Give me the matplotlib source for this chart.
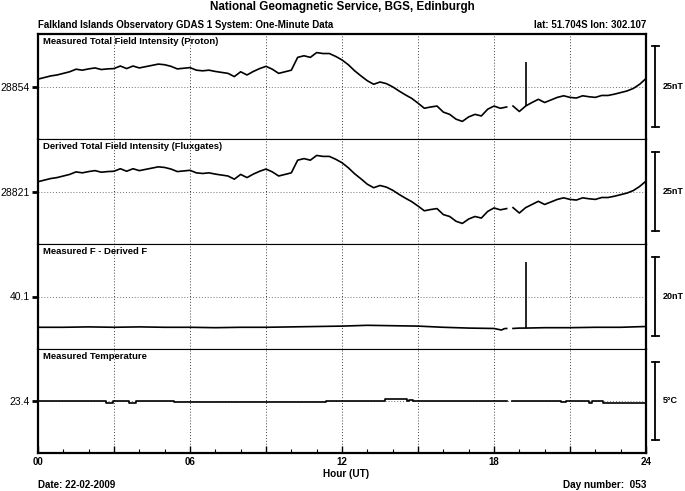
import numpy as np
import matplotlib.pyplot as plt
from matplotlib.ticker import FixedLocator, FuncFormatter

plt.rcParams['font.family'] = ['Liberation Sans', 'DejaVu Sans']

# one reading every 15 minutes, 00:00 .. 24:00
proton = [
    28856.3, 28856.8, 28857.3, 28857.6,
    28858.1, 28858.6, 28859.4, 28859.1,
    28859.5, 28859.8, 28859.3, 28859.5,
    28859.6, 28860.4, 28859.6, 28860.4,
    28859.8, 28860.2, 28860.6, 28861.0,
    28860.8, 28860.3, 28859.5, 28859.7,
    28859.9, 28859.1, 28858.9, 28859.1,
    28858.7, 28858.4, 28858.1, 28857.1,
    28858.6, 28857.6, 28858.7, 28859.6,
    28860.3, 28859.4, 28858.1, 28858.6,
    28859.1, 28863.1, 28863.6, 28863.1,
    28864.6, 28864.3, 28864.3, 28863.4,
    28862.3, 28860.8, 28858.9, 28857.3,
    28855.8, 28854.7, 28855.4, 28854.9,
    28853.9, 28852.6, 28851.4, 28850.3,
    28848.8, 28847.2, 28847.6, 28847.9,
    28846.0, 28845.3, 28843.8, 28843.1,
    28844.5, 28845.3, 28844.8, 28846.9,
    28847.9, 28847.2, 28847.6, 28847.9,
    28846.2, 28847.9, 28849.0, 28850.0,
    28849.0, 28849.8, 28850.6, 28851.1,
    28850.6, 28850.4, 28851.1, 28850.8,
    28850.6, 28851.2, 28851.2, 28851.6,
    28852.1, 28852.6, 28853.4, 28854.7,
    28856.5,
]
derived = [
    28824.1, 28824.6, 28825.1, 28825.4,
    28825.9, 28826.4, 28827.2, 28826.9,
    28827.3, 28827.6, 28827.1, 28827.3,
    28827.4, 28828.2, 28827.4, 28828.2,
    28827.6, 28828.0, 28828.4, 28828.8,
    28828.6, 28828.1, 28827.3, 28827.5,
    28827.7, 28826.9, 28826.7, 28826.9,
    28826.5, 28826.2, 28825.9, 28824.9,
    28826.4, 28825.4, 28826.5, 28827.4,
    28828.1, 28827.2, 28825.9, 28826.4,
    28826.9, 28830.9, 28831.4, 28830.9,
    28832.4, 28832.1, 28832.1, 28831.2,
    28830.1, 28828.5, 28826.6, 28825.0,
    28823.3, 28822.2, 28822.9, 28822.4,
    28821.4, 28820.1, 28818.9, 28817.8,
    28816.4, 28814.9, 28815.3, 28815.6,
    28813.7, 28813.1, 28811.6, 28810.9,
    28812.3, 28813.1, 28812.6, 28814.7,
    28815.8, 28815.2, 28815.6, 28815.9,
    28814.2, 28815.9, 28816.9, 28817.9,
    28816.9, 28817.7, 28818.5, 28819.0,
    28818.5, 28818.3, 28819.0, 28818.7,
    28818.5, 28819.1, 28819.1, 28819.5,
    28820.0, 28820.5, 28821.3, 28822.6,
    28824.3,
]
gap_hour = 18.6          # no data 18:30 - 18:45

diff_hours = [0, 1, 2, 3, 4, 5, 6, 7, 8, 9, 10, 11, 12, 13, 14, 15, 16, 17,
              18, 18.3, 18.4, 18.5, 18.6, 18.75, 19, 19.25, 20, 21, 22, 23, 24]
diff = [32.3, 32.3, 32.4, 32.3, 32.4, 32.3, 32.3, 32.2, 32.3, 32.3, 32.4,
        32.5, 32.6, 32.8, 32.7, 32.6, 32.3, 32.1,
        32.0, 31.6, 31.95, 32.0, np.nan, 32.0, 32.1, 32.1, 32.2, 32.2, 32.3, 32.3, 32.5]

spike_hour = 19.25
proton_spike = 28861.8
diff_spike = 48.9

temp_hours = [0, 2.7, 2.95, 3.6, 3.85, 5.35, 11.35, 13.7, 14.55, 14.65, 14.8,
              18.5, 18.73, 20.65, 20.85, 21.1, 21.75, 21.85, 22.3, 24]
temp = [23.4, 23.3, 23.4, 23.3, 23.4, 23.33, 23.4, 23.5, 23.43, 23.48, 23.4,
        np.nan, 23.4, 23.35, 23.4, 23.37, 23.3, 23.37, 23.25, 23.25]

centers = [28854, 28821, 40.1, 23.4]
center_labels = ['28854', '28821', '40.1', '23.4']
half_ranges = [16.4, 16.6, 13.3, 3.32]
bar_sizes = [25, 25, 20, 5]
bar_labels = ['25nT', '25nT', '20nT', '5°C']
titles = ['Measured Total Field Intensity (Proton)',
          'Derived Total Field Intensity (Fluxgates)',
          'Measured F - Derived F',
          'Measured Temperature']


def with_gap(x, y, gx):
    i = np.searchsorted(x, gx)
    return np.insert(x, i, gx), np.insert(np.asarray(y, float), i, np.nan)


hours = np.arange(len(proton)) * 0.25

W, H = 685, 491
fig = plt.figure(figsize=(W / 100, H / 100), dpi=100)
left, right = 38, 646
edges = [34, 139, 244, 349, 453]
axes = []
for k in range(4):
    ax = fig.add_axes([left / W, 1 - edges[k + 1] / H,
                       (right - left) / W, (edges[k + 1] - edges[k]) / H])
    axes.append(ax)

x1, y1 = with_gap(hours, proton, gap_hour)
axes[0].plot(x1, y1, color='black', lw=1.2)
base = proton[int(spike_hour / 0.25)]
axes[0].vlines(spike_hour, base, proton_spike, color='black', lw=1.2)

x2, y2 = with_gap(hours, derived, gap_hour)
axes[1].plot(x2, y2, color='black', lw=1.2)

axes[2].plot(diff_hours, diff, color='black', lw=1.2)
axes[2].vlines(spike_hour, diff[diff_hours.index(spike_hour)], diff_spike, color='black', lw=1.2)

axes[3].plot(temp_hours, temp, color='black', lw=1.2, drawstyle='steps-post')

for k, ax in enumerate(axes):
    c, hr = centers[k], half_ranges[k]
    ax.set_xlim(0, 24)
    ax.set_ylim(c - hr, c + hr)
    for h in range(3, 24, 3):
        ax.axvline(h, color='0.25', lw=0.7, ls=(0, (1, 2)), zorder=0)
    ax.axhline(c, color='0.45', lw=0.7, ls=(0, (1, 2)), zorder=0)
    ax.set_yticks([c])
    ax.set_yticklabels([center_labels[k]], fontsize=7.5)
    ax.tick_params(axis='y', direction='out', length=4, width=2, pad=2)
    ax.text(0.008, 0.97, titles[k], transform=ax.transAxes, ha='left', va='top',
            fontsize=6.8, fontweight='bold')
    for s in ax.spines.values():
        s.set_linewidth(0.8)
    ax.spines['left'].set_linewidth(1.6)
    ax.spines['right'].set_linewidth(1.6)
    # scale bar
    tr = ax.get_yaxis_transform()
    b = bar_sizes[k] / 2
    ax.plot([1.0155, 1.0155], [c - b, c + b], color='black', lw=1.3, transform=tr, clip_on=False)
    for yy in (c - b, c + b):
        ax.plot([1.0095, 1.0215], [yy, yy], color='black', lw=1.3, transform=tr, clip_on=False)
    ax.text(1.028, c, bar_labels[k], transform=tr, ha='left', va='center',
            fontsize=6.5, fontweight='bold')
    if k < 3:
        ax.tick_params(axis='x', which='both', bottom=False, labelbottom=False)

axes[0].spines['top'].set_linewidth(1.6)
axes[3].spines['bottom'].set_linewidth(1.6)

ax = axes[3]
ax.xaxis.set_major_locator(FixedLocator(range(0, 25, 3)))
ax.xaxis.set_minor_locator(FixedLocator(range(0, 25)))
ax.xaxis.set_major_formatter(FuncFormatter(lambda v, p: f'{int(v):02d}' if int(v) % 6 == 0 else ''))
ax.tick_params(axis='x', which='major', direction='in', length=5, width=1, labelsize=7, pad=3)
ax.tick_params(axis='x', which='minor', direction='in', length=3, width=0.8)
for lab in ax.get_xticklabels():
    lab.set_fontweight('bold')

fig.text(342 / W, 1 - 7 / H, 'National Geomagnetic Service, BGS, Edinburgh',
         ha='center', va='center', fontsize=8.4, fontweight='bold')
fig.text(left / W, 1 - 25 / H, 'Falkland Islands Observatory GDAS 1 System: One-Minute Data',
         ha='left', va='center', fontsize=7, fontweight='bold')
fig.text(right / W, 1 - 25 / H, 'lat: 51.704S lon: 302.107',
         ha='right', va='center', fontsize=7, fontweight='bold')
fig.text(346 / W, 1 - 474 / H, 'Hour (UT)', ha='center', va='center', fontsize=7.2, fontweight='bold')
fig.text(left / W, 1 - 485 / H, 'Date: 22-02-2009', ha='left', va='center', fontsize=7, fontweight='bold')
fig.text(right / W, 1 - 485 / H, 'Day number:  053', ha='right', va='center', fontsize=7.2, fontweight='bold')

fig.savefig('out.png', dpi=100)
